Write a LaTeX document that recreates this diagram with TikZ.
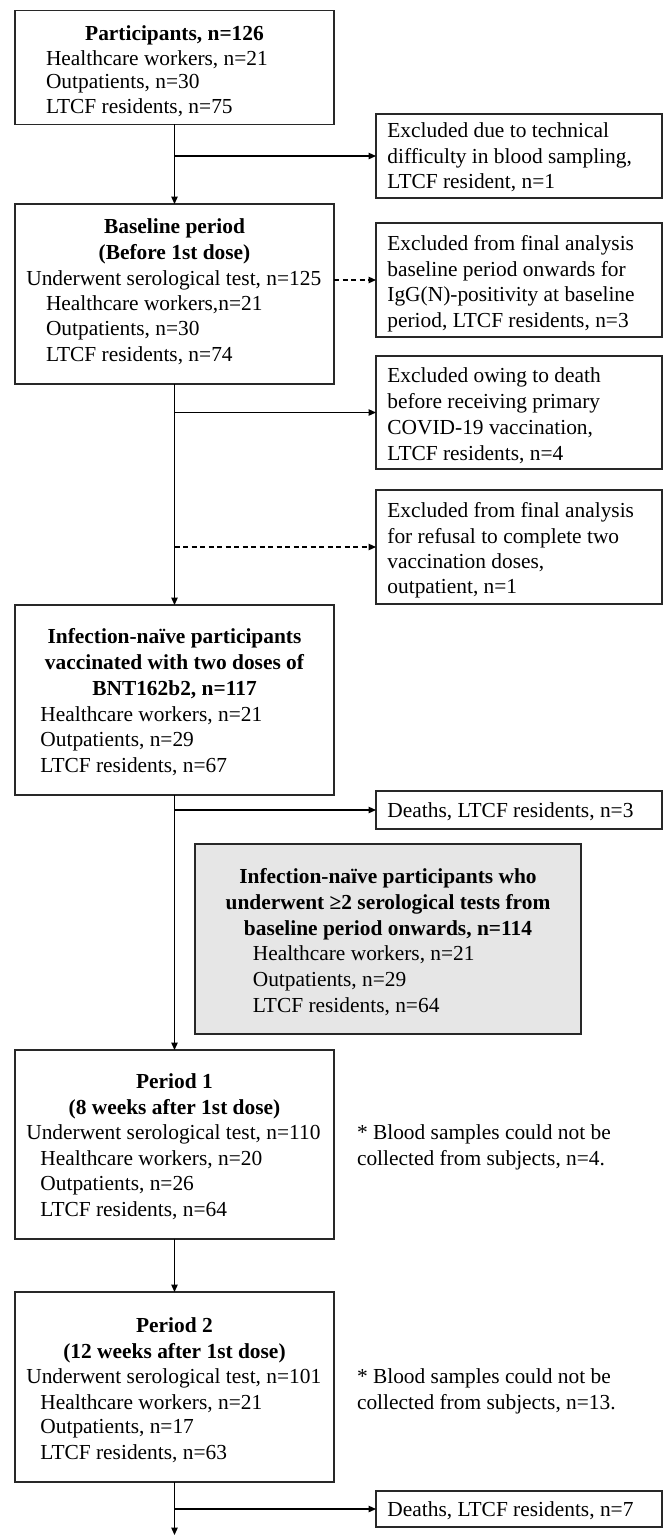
\documentclass[tikz,border=0pt]{standalone}
\usepackage{fontspec}
\setmainfont{Liberation Serif}
\usetikzlibrary{arrows.meta}
\definecolor{fillgray}{RGB}{230,230,230}
\definecolor{linec}{RGB}{40,40,40}
\tikzset{
  box/.style={draw=linec, line width=1.4pt, inner sep=0pt, outer sep=0pt},
  tx/.style={inner sep=0pt, outer sep=0pt, font=\fontsize{21.4pt}{25.5pt}\selectfont},
  txb/.style={tx, font=\fontsize{21.4pt}{25.5pt}\selectfont\bfseries, anchor=base},
  txl/.style={tx, anchor=base west},
  arr/.style={draw=black, line width=1.2pt, -{Triangle[length=7.5pt,width=6.5pt]}},
  dsh/.style={dash pattern=on 5pt off 3.5pt}
}
\begin{document}
\begin{tikzpicture}[x=1pt,y=-1pt]
\useasboundingbox (0,0) rectangle (664,1535);
% main boxes
\node[box, minimum width=319pt, minimum height=113.6pt] (b1) at (174.5,67.5) {};
\node[box, minimum width=319pt, minimum height=180pt] (b2) at (174.5,294) {};
\node[box, minimum width=319pt, minimum height=190pt] (b3) at (174.5,700) {};
\node[box, fill=fillgray, minimum width=386pt, minimum height=190pt] (g) at (388,939) {};
\node[box, minimum width=319pt, minimum height=189pt] (p1) at (174.5,1144.5) {};
\node[box, minimum width=319pt, minimum height=190pt] (p2) at (174.5,1387) {};
% exclusion boxes
\node[box, minimum width=286pt, minimum height=84pt] (e1) at (519,156) {};
\node[box, minimum width=286pt, minimum height=114pt] (e2) at (519,280) {};
\node[box, minimum width=286pt, minimum height=113pt] (e3) at (519,412.5) {};
\node[box, minimum width=286pt, minimum height=114pt] (e4) at (519,547) {};
\node[box, minimum width=286pt, minimum height=38pt] (d1) at (519,810) {};
\node[box, minimum width=286pt, minimum height=36pt] (d2) at (519,1509) {};
\coordinate (end) at (174.5,1535);
% texts box1
\node[txb] (b1a) at (174.5,40.3) {Participants, n=126};
\node[txl] (b1b) at (46,65.3) {Healthcare workers, n=21};
\node[txl] (b1c) at (46,88.7) {Outpatients, n=30};
\node[txl] (b1d) at (46,113) {LTCF residents, n=75};
% box2
\node[txb] (b2a) at (174.5,233.7) {Baseline period};
\node[txb] (b2b) at (174.5,259.7) {(Before 1st dose)};
\node[txl] (b2c) at (26.3,285.3) {Underwent serological test, n=125};
\node[txl] (b2d) at (46,310.3) {Healthcare workers,n=21};
\node[txl] (b2e) at (46,335.3) {Outpatients, n=30};
\node[txl] (b2f) at (46,361.3) {LTCF residents, n=74};
% box3
\node[txb] (b3a) at (174.5,643.7) {Infection-naïve participants};
\node[txb] (b3b) at (174.5,669.3) {vaccinated with two doses of};
\node[txb] (b3c) at (174.5,695.3) {BNT162b2, n=117};
\node[txl] (b3d) at (40.4,721.3) {Healthcare workers, n=21};
\node[txl] (b3e) at (40.4,746.3) {Outpatients, n=29};
\node[txl] (b3f) at (40.4,772) {LTCF residents, n=67};
% gray box
\node[txb] (ga) at (388,883.7) {Infection-naïve participants who};
\node[txb] (gb) at (388,909.7) {underwent ≥2 serological tests from};
\node[txb] (gc) at (388,935.3) {baseline period onwards, n=114};
\node[txl] (gd) at (252.8,960.3) {Healthcare workers, n=21};
\node[txl] (ge) at (252.8,986) {Outpatients, n=29};
\node[txl] (gf) at (252.8,1012) {LTCF residents, n=64};
% period 1
\node[txb] (p1a) at (174.5,1088) {Period 1};
\node[txb] (p1b) at (174.5,1114.3) {(8 weeks after 1st dose)};
\node[txl] (p1c) at (26.3,1139.7) {Underwent serological test, n=110};
\node[txl] (p1d) at (40.4,1165.3) {Healthcare workers, n=20};
\node[txl] (p1e) at (40.4,1190.3) {Outpatients, n=26};
\node[txl] (p1f) at (40.4,1216.3) {LTCF residents, n=64};
% period 2
\node[txb] (p2a) at (174.5,1332) {Period 2};
\node[txb] (p2b) at (174.5,1358.7) {(12 weeks after 1st dose)};
\node[txl] (p2c) at (26.3,1383.7) {Underwent serological test, n=101};
\node[txl] (p2d) at (40.4,1409.7) {Healthcare workers, n=21};
\node[txl] (p2e) at (40.4,1433.7) {Outpatients, n=17};
\node[txl] (p2f) at (40.4,1459.7) {LTCF residents, n=63};
% exclusion texts
\node[txl] (e1a) at (387.4,137.5) {Excluded due to technical};
\node[txl] (e1b) at (387.4,163) {difficulty in blood sampling,};
\node[txl] (e1c) at (387.4,188.5) {LTCF resident, n=1};
\node[txl] (e2a) at (387.4,250.3) {Excluded from final analysis};
\node[txl] (e2b) at (387.4,276) {baseline period onwards for};
\node[txl] (e2c) at (387.4,301.3) {IgG(N)-positivity at baseline};
\node[txl] (e2d) at (387.4,327) {period, LTCF residents, n=3};
\node[txl] (e3a) at (387.4,382.7) {Excluded owing to death};
\node[txl] (e3b) at (387.4,408.7) {before receiving primary};
\node[txl] (e3c) at (387.4,434.7) {COVID-19 vaccination,};
\node[txl] (e3d) at (387.4,460.3) {LTCF residents, n=4};
\node[txl] (e4a) at (387.4,517) {Excluded from final analysis};
\node[txl] (e4b) at (387.4,543) {for refusal to complete two};
\node[txl] (e4c) at (387.4,568.7) {vaccination doses,};
\node[txl] (e4d) at (387.4,593.7) {outpatient, n=1};
\node[txl] (d1a) at (387.4,817) {Deaths, LTCF residents, n=3};
\node[txl] (d2a) at (387.4,1516) {Deaths, LTCF residents, n=7};
% notes
\node[txl] (n1a) at (357,1139.7) {* Blood samples could not be};
\node[txl] (n1b) at (357,1165.3) {collected from subjects, n=4.};
\node[txl] (n2a) at (357,1383.7) {* Blood samples could not be};
\node[txl] (n2b) at (357,1409.7) {collected from subjects, n=13.};
% connectors
\draw[arr] (b1.south) -- (b2.north);
\draw[arr] (b2.south) -- (b3.north);
\draw[arr] (b3.south) -- (p1.north);
\draw[arr] (p1.south) -- (p2.north);
\draw[arr] (p2.south) -- (end);
\draw[arr] (b1.south |- e1.west) -- (e1.west);
\draw[arr,dsh] (b2.east |- e2.west) -- (e2.west);
\draw[arr] (b2.south |- e3.west) -- (e3.west);
\draw[arr,dsh] (b2.south |- e4.west) -- (e4.west);
\draw[arr] (b3.south |- d1.west) -- (d1.west);
\draw[arr] (p2.south |- d2.west) -- (d2.west);
\end{tikzpicture}
\end{document}
